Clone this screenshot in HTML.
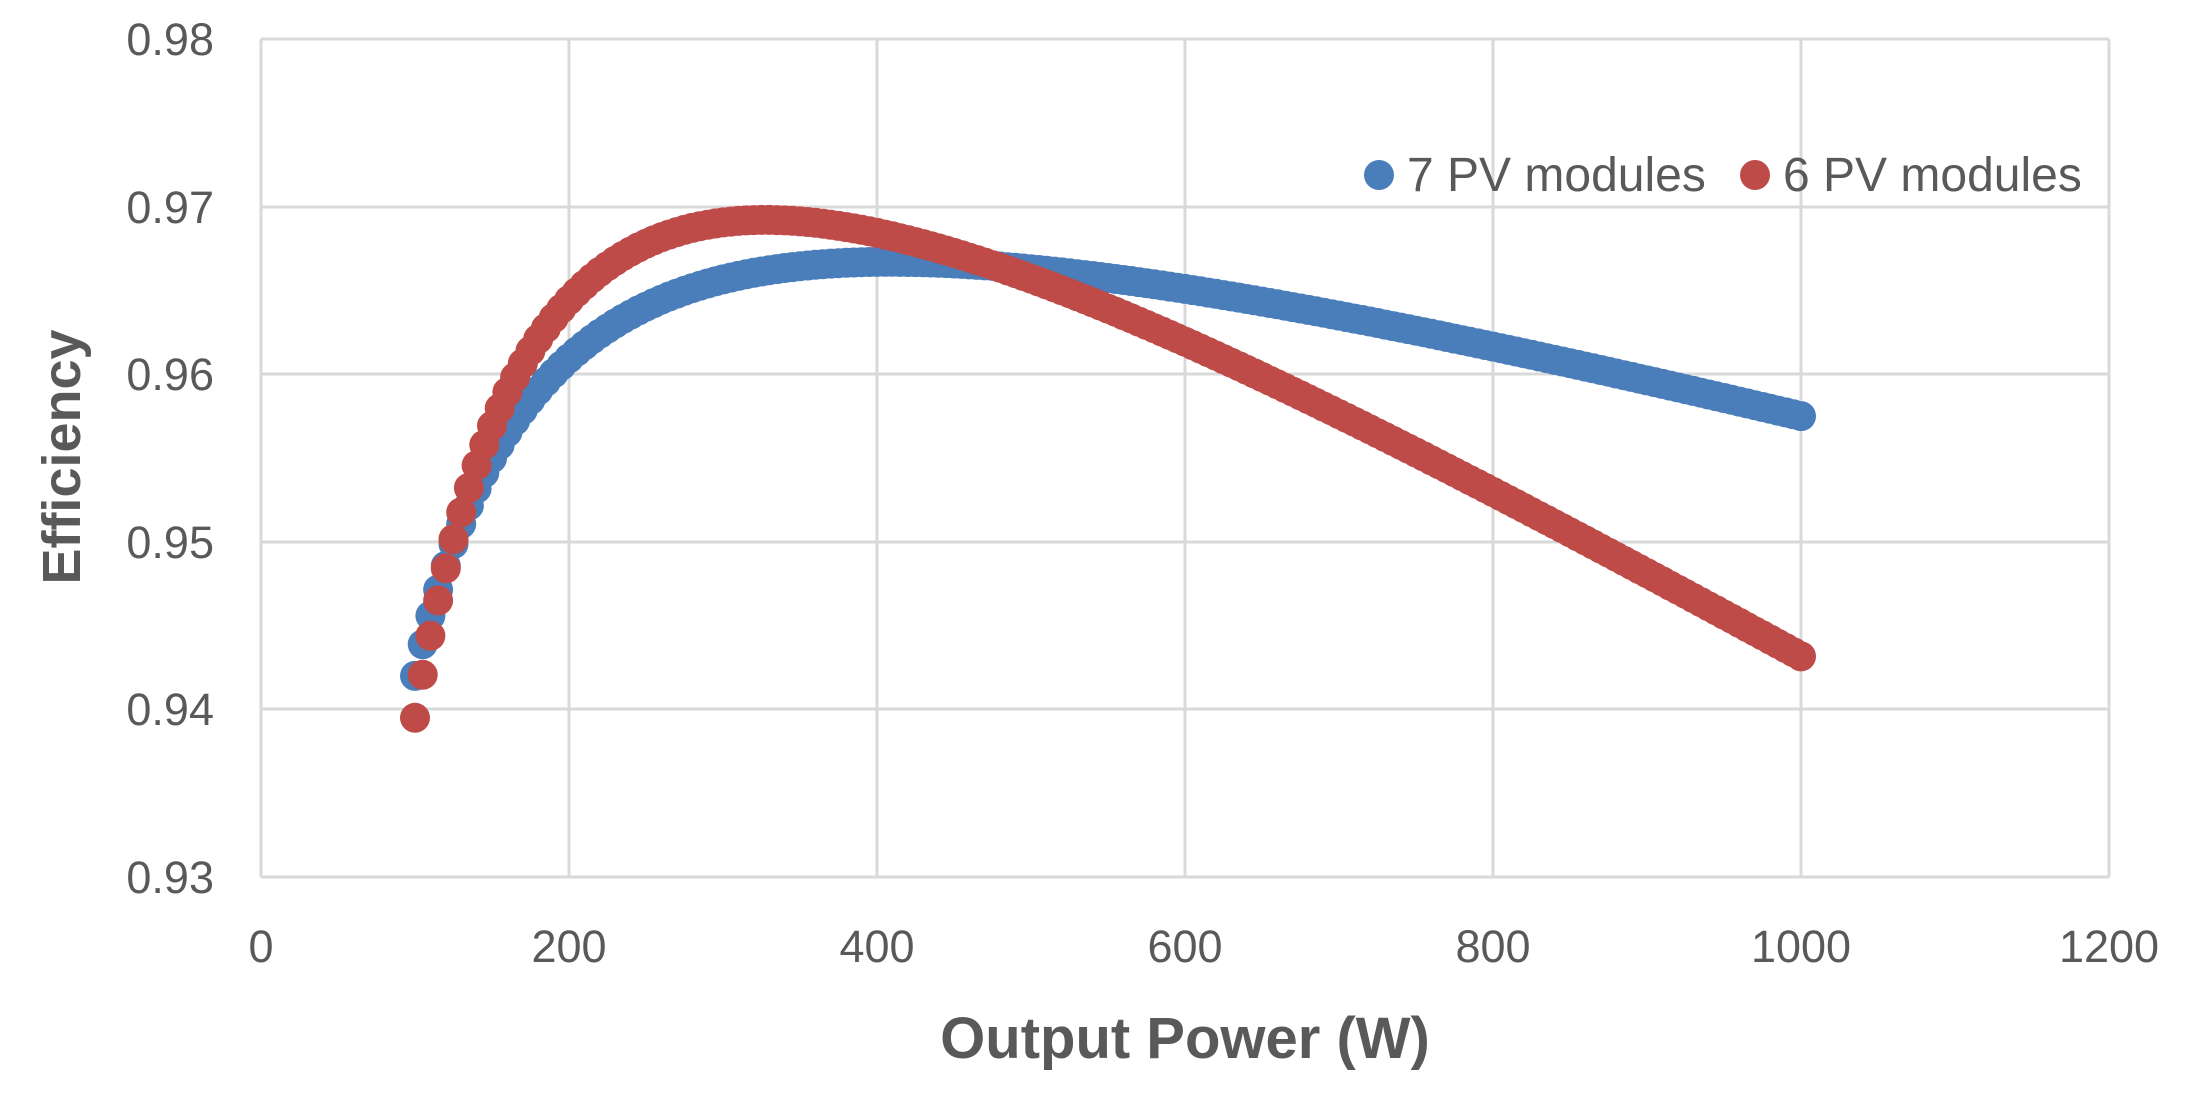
<!DOCTYPE html>
<html><head><meta charset="utf-8"><style>
html,body{margin:0;padding:0;background:#fff;}
svg{display:block;}
text{font-family:"Liberation Sans",sans-serif;fill:#595959;}
</style></head><body>
<svg id="s" width="2190" height="1104" viewBox="0 0 2190 1104" xmlns="http://www.w3.org/2000/svg">
<g stroke="#d9d9d9" stroke-width="3" fill="none">
<line x1="261" y1="39" x2="2109" y2="39"/>
<line x1="261" y1="207" x2="2109" y2="207"/>
<line x1="261" y1="374" x2="2109" y2="374"/>
<line x1="261" y1="542" x2="2109" y2="542"/>
<line x1="261" y1="709" x2="2109" y2="709"/>
<line x1="261" y1="877" x2="2109" y2="877"/>
<line x1="261" y1="39" x2="261" y2="877"/>
<line x1="569" y1="39" x2="569" y2="877"/>
<line x1="877" y1="39" x2="877" y2="877"/>
<line x1="1185" y1="39" x2="1185" y2="877"/>
<line x1="1493" y1="39" x2="1493" y2="877"/>
<line x1="1801" y1="39" x2="1801" y2="877"/>
<line x1="2109" y1="39" x2="2109" y2="877"/>
</g>
<g font-size="45" text-anchor="end">
<text x="214" y="55">0.98</text>
<text x="214" y="223">0.97</text>
<text x="214" y="390">0.96</text>
<text x="214" y="558">0.95</text>
<text x="214" y="725">0.94</text>
<text x="214" y="893">0.93</text>
</g>
<g font-size="45" text-anchor="middle">
<text x="261" y="962">0</text>
<text x="569" y="962">200</text>
<text x="877" y="962">400</text>
<text x="1185" y="962">600</text>
<text x="1493" y="962">800</text>
<text x="1801" y="962">1000</text>
<text x="2109" y="962">1200</text>
</g>
<text x="1185" y="1058" font-size="58" font-weight="bold" text-anchor="middle">Output Power (W)</text>
<text transform="translate(80,457) rotate(-90)" font-size="54" font-weight="bold" text-anchor="middle">Efficiency</text>
<g id="blue" fill="#4a7ebb"></g>
<g id="red" fill="#be4b48"></g>
<circle cx="1379" cy="175" r="15" fill="#4a7ebb"/>
<text x="1407" y="191" font-size="48">7 PV modules</text>
<circle cx="1755" cy="175" r="15" fill="#be4b48"/>
<text x="1783" y="191" font-size="48">6 PV modules</text>
</svg>
<script>
function X(p){return 261+p*308/200;}
function Y(e){return 877-(e-0.93)*16760;}
function add(id,a,b,c){
  var g=document.getElementById(id),h='';
  for(var p=100;p<=1000;p+=5){
    var L=a+b*p+c*p*p, e=p/(p+L);
    h+='<circle cx="'+X(p).toFixed(1)+'" cy="'+Y(e).toFixed(1)+'" r="15"/>';
  }
  g.innerHTML=h;
}
add('blue',4.755,0.01118,2.845e-5);
add('red',6.76,-0.0095,6.3e-5);
</script>
</body></html>
